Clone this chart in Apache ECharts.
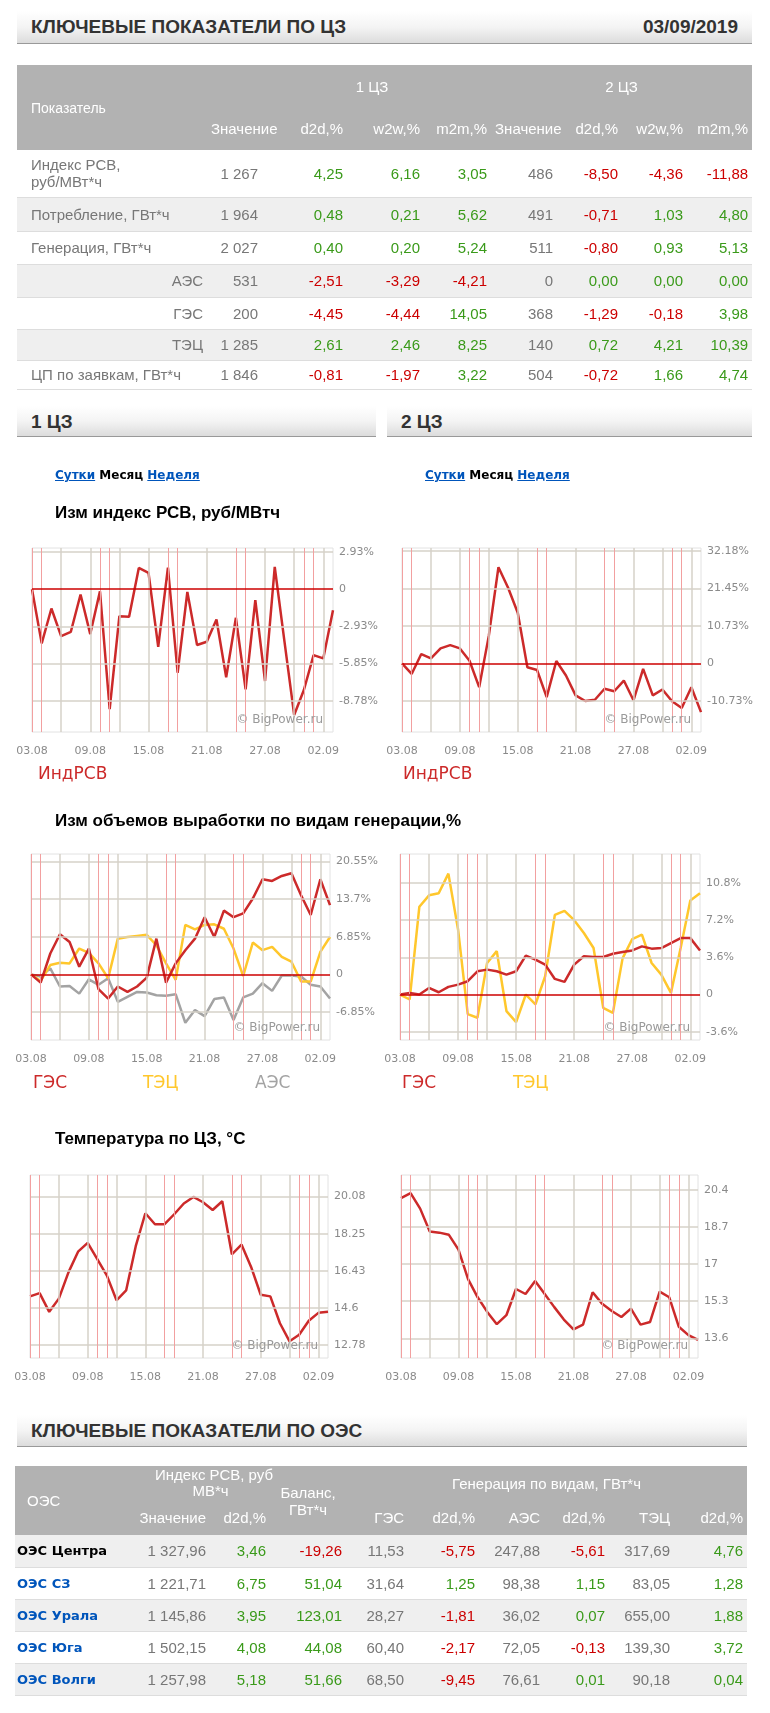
<!DOCTYPE html>
<html>
<head>
<meta charset="utf-8">
<script src="https://cdn.jsdelivr.net/npm/echarts@6/dist/echarts.min.js"></script>
<style>
body { margin:0; background:#fff; font-family:"Liberation Sans Narrow","Liberation Sans",Arial,sans-serif; }
#page { position:relative; width:770px; height:1713px; overflow:hidden; }
.bar { position:absolute; background:linear-gradient(to bottom,#fff 0%,#f4f4f4 50%,#dcdcdc 100%); border-bottom:1px solid #999; font-family:"Liberation Sans",Arial,sans-serif; font-weight:bold; color:#333; font-size:19px; box-sizing:border-box; padding-left:14px; }
table { position:absolute; border-collapse:collapse; table-layout:fixed; font-size:15px; color:#777; }
th { background:#b2b2b2; color:#fff; font-weight:normal; padding:0 4px; white-space:nowrap; }
td { padding:0 4px; text-align:right; border-bottom:1px solid #ddd; white-space:nowrap; }
td.lbl { text-align:left; padding-left:14px; }
td.sub { text-align:right; }
tr.g td { background:#efefef; }
.pos { color:#3a9a1a; } .neg { color:#cc0000; }
.links { position:absolute; font-family:"DejaVu Sans",Arial,sans-serif; font-size:12px; font-weight:bold; }
.links a { color:#0055bb; text-decoration:underline; }
.ct { position:absolute; font-family:"Liberation Sans",Arial,sans-serif; font-size:17px; font-weight:bold; color:#000; }
.oname { font-family:"DejaVu Sans",Arial,sans-serif; font-weight:bold; font-size:13px; color:#000; text-align:left; padding-left:2px; }
.oname a { color:#0055bb; }
#chart { position:absolute; left:0; top:0; width:770px; height:1713px; }
</style>
</head>
<body>
<div id="page">
<div id="chart"></div>
<div class="bar" style="left:17px;top:11px;width:735px;height:33px;line-height:32px;">КЛЮЧЕВЫЕ ПОКАЗАТЕЛИ ПО ЦЗ<span style="position:absolute;right:14px;">03/09/2019</span></div>
<table id="t1" style="left:17px;top:65px;width:735px;"></table>
<div class="bar" style="left:17px;top:406px;width:359px;height:31px;line-height:31px;">1 ЦЗ</div>
<div class="bar" style="left:387px;top:406px;width:365px;height:31px;line-height:31px;">2 ЦЗ</div>
<div class="links" style="left:55px;top:468px;"><a>Сутки</a> Месяц <a>Неделя</a></div>
<div class="links" style="left:425px;top:468px;"><a>Сутки</a> Месяц <a>Неделя</a></div>
<div class="ct" style="left:55px;top:503px;">Изм индекс РСВ, руб/МВтч</div>
<div class="ct" style="left:55px;top:811px;">Изм объемов выработки по видам генерации,%</div>
<div class="ct" style="left:55px;top:1129px;">Температура по ЦЗ, °C</div>
<div class="bar" style="left:17px;top:1415px;width:730px;height:32px;line-height:32px;">КЛЮЧЕВЫЕ ПОКАЗАТЕЛИ ПО ОЭС</div>
<table id="t2" style="left:15px;top:1466px;width:732px;"></table>
</div>
<script>
// ---- tables ----
var t1Labels = ['Индекс РСВ, руб/МВт*ч', 'Потребление, ГВт*ч', 'Генерация, ГВт*ч', 'АЭС', 'ГЭС', 'ТЭЦ', 'ЦП по заявкам, ГВт*ч'];
var t1Values1 = ['1 267', '1 964', '2 027', '531', '200', '1 285', '1 846'];
var t1D2d1 = ['4,25', '0,48', '0,40', '-2,51', '-4,45', '2,61', '-0,81'];
var t1W2w1 = ['6,16', '0,21', '0,20', '-3,29', '-4,44', '2,46', '-1,97'];
var t1M2m1 = ['3,05', '5,62', '5,24', '-4,21', '14,05', '8,25', '3,22'];
var t1Values2 = ['486', '491', '511', '0', '368', '140', '504'];
var t1D2d2 = ['-8,50', '-0,71', '-0,80', '0,00', '-1,29', '0,72', '-0,72'];
var t1W2w2 = ['-4,36', '1,03', '0,93', '0,00', '-0,18', '4,21', '1,66'];
var t1M2m2 = ['-11,88', '4,80', '5,13', '0,00', '3,98', '10,39', '4,74'];

var oesNames = ['ОЭС Центра', 'ОЭС СЗ', 'ОЭС Урала', 'ОЭС Юга', 'ОЭС Волги'];
var oesIndex = ['1 327,96', '1 221,71', '1 145,86', '1 502,15', '1 257,98'];
var oesIndexD2d = ['3,46', '6,75', '3,95', '4,08', '5,18'];
var oesBalance = ['-19,26', '51,04', '123,01', '44,08', '51,66'];
var oesGes = ['11,53', '31,64', '28,27', '60,40', '68,50'];
var oesGesD2d = ['-5,75', '1,25', '-1,81', '-2,17', '-9,45'];
var oesAes = ['247,88', '98,38', '36,02', '72,05', '76,61'];
var oesAesD2d = ['-5,61', '1,15', '0,07', '-0,13', '0,01'];
var oesTec = ['317,69', '83,05', '655,00', '139,30', '90,18'];
var oesTecD2d = ['4,76', '1,28', '1,88', '3,72', '0,04'];

function sc(v) { return v.charAt(0) === '-' ? 'neg' : 'pos'; }

var h = '<colgroup><col style="width:190px"><col style="width:55px"><col style="width:85px"><col style="width:77px"><col style="width:67px"><col style="width:66px"><col style="width:65px"><col style="width:65px"><col style="width:65px"></colgroup>';
h += '<tr style="height:42px"><th rowspan="2" style="text-align:left;padding-left:14px;font-size:14px">Показатель</th><th colspan="4" style="padding-left:50px">1 ЦЗ</th><th colspan="4">2 ЦЗ</th></tr>';
h += '<tr style="height:43px">' + ['Значение', 'd2d,%', 'w2w,%', 'm2m,%', 'Значение', 'd2d,%', 'w2w,%', 'm2m,%'].map(function (s) { return '<th style="text-align:right">' + s + '</th>'; }).join('') + '</tr>';
var rh = [47, 34, 33, 33, 32, 31, 29];
for (var i = 0; i < t1Labels.length; i++) {
    var sub = i >= 3 && i <= 5;
    h += '<tr class="' + (i % 2 ? 'g' : '') + '" style="height:' + rh[i] + 'px">';
    h += '<td class="' + (sub ? 'sub' : 'lbl') + '"' + (i === 0 ? ' style="line-height:17px"' : '') + '>' + (i === 0 ? 'Индекс РСВ,<br>руб/МВт*ч' : t1Labels[i]) + '</td>';
    h += '<td>' + t1Values1[i] + '</td>';
    [t1D2d1, t1W2w1, t1M2m1].forEach(function (a) { h += '<td class="' + sc(a[i]) + '">' + a[i] + '</td>'; });
    h += '<td>' + t1Values2[i] + '</td>';
    [t1D2d2, t1W2w2, t1M2m2].forEach(function (a) { h += '<td class="' + sc(a[i]) + '">' + a[i] + '</td>'; });
    h += '</tr>';
}
document.getElementById('t1').innerHTML = h;

h = '<colgroup><col style="width:110px"><col style="width:85px"><col style="width:60px"><col style="width:76px"><col style="width:62px"><col style="width:71px"><col style="width:65px"><col style="width:65px"><col style="width:65px"><col style="width:73px"></colgroup>';
h += '<tr style="height:34px"><th rowspan="2" style="text-align:left;padding-left:12px">ОЭС</th><th colspan="2" style="line-height:16px;padding-left:30px">Индекс РСВ, руб<br>МВ*ч</th><th rowspan="2" style="line-height:17px">Баланс,<br>ГВт*ч</th><th colspan="6">Генерация по видам, ГВт*ч</th></tr>';
h += '<tr style="height:35px">' + ['Значение', 'd2d,%', 'ГЭС', 'd2d,%', 'АЭС', 'd2d,%', 'ТЭЦ', 'd2d,%'].map(function (s) { return '<th style="text-align:right">' + s + '</th>'; }).join('') + '</tr>';
for (var i = 0; i < oesNames.length; i++) {
    h += '<tr class="' + (i % 2 ? '' : 'g') + '" style="height:32px">';
    h += '<td class="oname">' + (i === 0 ? oesNames[i] : '<a>' + oesNames[i] + '</a>') + '</td>';
    h += '<td>' + oesIndex[i] + '</td><td class="' + sc(oesIndexD2d[i]) + '">' + oesIndexD2d[i] + '</td>';
    h += '<td class="' + sc(oesBalance[i]) + '">' + oesBalance[i] + '</td>';
    h += '<td>' + oesGes[i] + '</td><td class="' + sc(oesGesD2d[i]) + '">' + oesGesD2d[i] + '</td>';
    h += '<td>' + oesAes[i] + '</td><td class="' + sc(oesAesD2d[i]) + '">' + oesAesD2d[i] + '</td>';
    h += '<td>' + oesTec[i] + '</td><td class="' + sc(oesTecD2d[i]) + '">' + oesTecD2d[i] + '</td>';
    h += '</tr>';
}
document.getElementById('t2').innerHTML = h;

// ---- chart data ----
var dates = ['03.08', '04.08', '05.08', '06.08', '07.08', '08.08', '09.08', '10.08', '11.08', '12.08', '13.08', '14.08', '15.08', '16.08', '17.08', '18.08',
    '19.08', '20.08', '21.08', '22.08', '23.08', '24.08', '25.08', '26.08', '27.08', '28.08', '29.08', '30.08', '31.08', '01.09', '02.09', '03.09'];
var weekendIdx = [0, 1, 7, 8, 14, 15, 21, 22, 28, 29];

var rsv1 = [0, -4.26, -1.52, -3.69, -3.35, -0.42, -3.53, -0.16, -9.44, -2.12, -2.17, 1.67, 1.28, -4.53, 1.70, -6.57,
    -0.21, -4.39, -4.13, -2.38, -6.93, -2.25, -7.87, -0.86, -7.22, 1.75, -4.1, -9.89, -7.93, -5.18, -5.44, -1.65];
var rsv2 = [0, -3.04, 2.66, 1.43, 4.28, 5.22, 4.28, 0.76, -6.84, 7.88, 27.6, 21.7, 14.5, -1.14, -1.9, -9.69,
    0.66, -3.5, -9.2, -10.8, -10.45, -7.3, -8.0, -4.94, -10.6, -1.6, -9.2, -7.5, -10.9, -12.8, -6.84, -14.0];
var ges1 = [0, -1.5, 3.8, 7.3, 5.9, 1.4, 4.7, -2.7, -4.4, -2.2, -3.2, -2.2, -0.6, 6.5, -1.5, 2.0,
    4.4, 6.5, 10.4, 6.8, 11.6, 10.4, 11.1, 13.8, 17.3, 17.0, 17.9, 18.4, 14.4, 10.8, 17.3, 12.6];
var tec1 = [0, -1.2, 1.7, 2.1, 2.0, 4.7, 3.9, 2.0, -0.7, 6.5, 6.8, 7.0, 7.2, 5.3, 2.0, -1.0,
    9.0, 8.2, 9.0, 9.1, 8.3, 4.7, -0.3, 5.8, 4.4, 5.0, 3.2, 2.3, -1.3, -1.3, 4.1, 6.8];
var aes1 = [0, -0.4, 1.1, -2.2, -2.1, -3.5, -0.9, -1.9, -0.7, -5.0, -4.1, -3.2, -3.3, -3.8, -3.9, -3.6,
    -8.8, -6.5, -7.6, -4.5, -4.2, -8.3, -4.2, -3.5, -1.6, -3.0, -0.2, -0.2, -0.4, -1.9, -2.2, -4.4];
var ges2 = [0, 0.16, 0, 0.64, 0.22, 0.74, 0.96, 1.29, 2.25, 2.41, 2.25, 1.93, 2.25, 3.76, 3.37, 2.89,
    1.51, 1.22, 2.89, 3.7, 3.63, 3.63, 3.95, 4.11, 4.27, 4.66, 4.44, 4.5, 4.98, 5.46, 5.46, 4.27];
var tec2 = [0, -0.48, 8.5, 9.6, 9.8, 11.7, 6.3, -1.9, -2.25, 3.05, 4.2, -1.6, -2.67, 0, -0.96, 1.77,
    7.7, 8.1, 7.2, 5.95, 4.5, -1.29, -1.77, 3.5, 5.37, 5.8, 3.05, 1.93, 0.16, 4.5, 9.1, 9.8];
var temp1 = [15.17, 15.33, 14.41, 15.06, 16.35, 17.37, 17.8, 17.0, 16.19, 14.98, 15.46, 17.64, 19.26, 18.72, 18.72, 19.21,
    19.74, 20.06, 19.8, 19.42, 19.85, 17.24, 17.72, 16.62, 15.25, 15.17, 13.85, 12.96, 13.28, 13.97, 14.36, 14.41];
var temp2 = [20.02, 20.25, 19.54, 18.49, 18.44, 18.34, 17.66, 16.31, 15.48, 14.81, 14.25, 14.66, 15.86, 15.63, 16.23, 15.63,
    15.03, 14.46, 14.01, 14.23, 15.71, 15.18, 14.85, 14.58, 14.96, 14.23, 14.35, 15.74, 15.48, 14.13, 13.75, 13.53];

var rsv1Ticks = [2.93, 0, -2.93, -5.85, -8.78];
var rsv2Ticks = [32.18, 21.45, 10.73, 0, -10.73];
var gen1Ticks = [20.55, 13.7, 6.85, 0, -6.85];
var gen2Ticks = [10.8, 7.2, 3.6, 0, -3.6];
var temp1Ticks = [20.08, 18.25, 16.43, 14.6, 12.78];
var temp2Ticks = [20.4, 18.7, 17, 15.3, 13.6];

var RED = '#cc2a2a', YEL = '#ffc72c', GRAY = '#a3a3a3';

var option = { animation: false, grid: [], xAxis: [], yAxis: [], series: [], graphic: [] };

function panel(box, yMin, yMax, ticks, pct, zero, lines) {
    var gi = option.grid.length;
    option.grid.push({ left: box[0], top: box[1], width: box[2], height: box[3], show: true, borderColor: '#e2e2e2', borderWidth: 1 });
    option.xAxis.push({
        type: 'category', gridIndex: gi, data: dates, boundaryGap: false,
        axisLine: { show: false }, axisTick: { show: false }, splitLine: { show: false },
        axisLabel: { interval: function (i) { return i % 6 === 0; }, margin: 14, color: '#8a8a8a', fontSize: 11, fontFamily: 'DejaVu Sans' }
    });
    option.yAxis.push({
        type: 'value', gridIndex: gi, position: 'right', min: yMin, max: yMax,
        axisLine: { show: false }, axisTick: { show: false }, splitLine: { show: false },
        axisLabel: { customValues: ticks, margin: 6, color: '#8a8a8a', fontSize: 11, fontFamily: 'DejaVu Sans',
            formatter: function (v) { return (Math.round(v * 100) / 100) + (pct && v !== 0 ? '%' : ''); } }
    });
    var ml = [];
    ticks.forEach(function (t) { if (!(zero && t === 0)) ml.push({ yAxis: t, lineStyle: { color: '#d6d2c8', width: 1.5, type: 'solid' } }); });
    dates.forEach(function (d, i) {
        if (weekendIdx.indexOf(i) >= 0) ml.push({ xAxis: i, lineStyle: { color: '#f2a0a0', width: 1, type: 'solid' } });
        else if (i % 3 === 0) ml.push({ xAxis: i, lineStyle: { color: '#d6d2c8', width: 1.5, type: 'solid' } });
    });
    option.series.push({
        type: 'line', xAxisIndex: gi, yAxisIndex: gi, data: dates.map(function () { return null; }), z: 1, silent: true,
        markLine: { silent: true, symbol: 'none', label: { show: false }, animation: false, data: ml }
    });
    lines.forEach(function (l) {
        option.series.push({ type: 'line', xAxisIndex: gi, yAxisIndex: gi, data: l[0], symbol: 'none', z: 3,
            lineStyle: { color: l[1], width: 2.5 } });
    });
    if (zero) {
        option.series.push({ type: 'line', xAxisIndex: gi, yAxisIndex: gi, data: dates.map(function () { return null; }), z: 2, silent: true,
            markLine: { silent: true, symbol: 'none', label: { show: false }, data: [{ yAxis: 0, lineStyle: { color: '#cc0000', width: 1.5, type: 'solid' } }] } });
    }
    option.graphic.push({ type: 'text', right: 770 - box[0] - box[2] + 10, top: box[1] + box[3] - 18, z: 10,
        style: { text: '© BigPower.ru', fill: '#9a9a9a', font: '12px "DejaVu Sans"' } });
}

panel([32, 548, 301, 184], -11.23, 3.24, rsv1Ticks, true, true, [[rsv1, RED]]);
panel([402, 548, 299, 184], -19.7, 33.1, rsv2Ticks, true, true, [[rsv2, RED]]);
panel([31, 854, 299, 186], -11.94, 21.9, gen1Ticks, true, true, [[aes1, GRAY], [tec1, YEL], [ges1, RED]]);
panel([400, 854, 300, 186], -4.4, 13.6, gen2Ticks, true, true, [[tec2, YEL], [ges2, RED]]);
panel([30, 1175, 298, 183], 12.14, 21.14, temp1Ticks, false, false, [[temp1, RED]]);
panel([401, 1175, 297, 183], 12.7, 21.08, temp2Ticks, false, false, [[temp2, RED]]);

var legendFont = '17px "DejaVu Sans"';
[[38, 766, 'ИндРСВ', RED], [403, 766, 'ИндРСВ', RED],
 [33, 1075, 'ГЭС', RED], [143, 1075, 'ТЭЦ', YEL], [255, 1075, 'АЭС', GRAY],
 [402, 1075, 'ГЭС', RED], [513, 1075, 'ТЭЦ', YEL]].forEach(function (g) {
    option.graphic.push({ type: 'text', left: g[0], top: g[1], style: { text: g[2], fill: g[3], font: legendFont } });
});

var chart = echarts.init(document.getElementById('chart'));
chart.setOption(option);
window.addEventListener('resize', function () {
    chart.resize();
});
</script>
</body>
</html>
